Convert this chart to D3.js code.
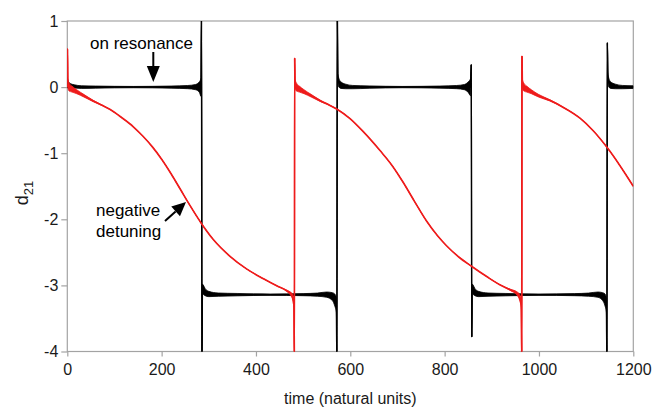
<!DOCTYPE html>
<html>
<head>
<meta charset="utf-8">
<script src="https://cdn.jsdelivr.net/npm/d3@7/dist/d3.min.js"></script>
<style>
  html, body { margin: 0; padding: 0; background: #fff; }
  svg { display: block; font-family: "Liberation Sans", Arial, sans-serif; }
</style>
</head>
<body>
<svg id="chart" width="654" height="409"></svg>
<script>
// Axis ticks
const xTicks = [0, 200, 400, 600, 800, 1000, 1200];
const yTicks = [1, 0, -1, -2, -3, -4];

// On resonance: time, mean value of d21 and half-width of the fast oscillation band
const blackTime = [0, 2, 6, 15, 30, 60, 140, 220, 255, 272, 280, 283.5,
  284.5, 285.5,
  286.5, 288, 292, 300, 320, 360, 430, 500, 530, 550, 562, 567, 570.5,
  571.5, 572.5,
  573.5, 575, 580, 590, 605, 640, 710, 790, 825, 842, 850, 855,
  856.5, 857.5,
  858.5, 860, 864, 872, 892, 930, 1000, 1075, 1105, 1125, 1135, 1140, 1143,
  1144, 1145,
  1146, 1147.5, 1152, 1162, 1177, 1200];
const blackValue = [0.07, 0.04, 0.02, 0.01, 0, 0, 0, 0, 0, 0, 0, 0,
  1.1, -4.1,
  -3.0, -3.06, -3.1, -3.13, -3.14, -3.14, -3.14, -3.14, -3.14, -3.14, -3.17, -3.22, -3.3,
  -4.1, 1.1,
  0.2, 0.08, 0.03, 0.01, 0, 0, 0, 0, 0, 0, 0, 0,
  0.34, -3.78,
  -3.0, -3.06, -3.1, -3.13, -3.14, -3.14, -3.14, -3.14, -3.14, -3.14, -3.17, -3.22, -3.3,
  -4.1, 0.67,
  0.2, 0.08, 0.03, 0.01, 0, 0];
const blackSpread = [0.08, 0.05, 0.035, 0.025, 0.02, 0.016, 0.01, 0.016, 0.024, 0.04, 0.08, 0.14,
  0, 0,
  0.02, 0.07, 0.055, 0.04, 0.025, 0.018, 0.01, 0.016, 0.024, 0.04, 0.06, 0.09, 0.11,
  0, 0,
  0.02, 0.07, 0.05, 0.035, 0.025, 0.018, 0.01, 0.016, 0.024, 0.04, 0.08, 0.13,
  0, 0,
  0.02, 0.07, 0.055, 0.04, 0.025, 0.018, 0.01, 0.016, 0.024, 0.04, 0.06, 0.09, 0.11,
  0, 0,
  0.02, 0.07, 0.05, 0.035, 0.025, 0.02];

// Negative detuning: time, mean value of d21 and half-width of the fast oscillation band
const redTime = [0, 0.4, 1.2, 4, 10, 20, 35, 55, 75, 91, 115, 140, 160, 180, 200, 220, 240, 260,
  285, 310, 345, 380, 416, 445, 465, 474, 478, 480.5, 481.5,
  482, 482.8, 486, 492, 502, 517, 537, 555, 571, 600, 627, 663, 690, 712, 737, 762, 785,
  804, 830, 857, 890, 917, 940, 953, 959, 962.5, 963.5,
  964, 964.8, 968, 974, 984, 999, 1023, 1050, 1087, 1115, 1143, 1170, 1200];
const redValue = [0, 0.58, 0.05, 0, -0.03, -0.07, -0.13, -0.21, -0.28, -0.34, -0.46, -0.6, -0.74, -0.9, -1.09, -1.31, -1.55, -1.79,
  -2.07, -2.31, -2.56, -2.75, -2.9, -3.01, -3.08, -3.13, -3.18, -3.3, -4.1,
  0.44, 0.05, 0, -0.03, -0.07, -0.13, -0.21, -0.27, -0.33, -0.48, -0.67, -0.96, -1.2, -1.44, -1.74, -2.03, -2.25,
  -2.4, -2.57, -2.71, -2.87, -2.99, -3.07, -3.12, -3.18, -3.3, -4.1,
  0.47, 0.05, 0, -0.03, -0.07, -0.13, -0.2, -0.3, -0.47, -0.66, -0.9, -1.17, -1.5];
const redSpread = [0, 0, 0.07, 0.06, 0.045, 0.03, 0.02, 0.01, 0.004, 0, 0, 0, 0, 0, 0, 0, 0, 0,
  0, 0, 0, 0, 0, 0, 0.01, 0.025, 0.045, 0.065, 0,
  0, 0.07, 0.06, 0.045, 0.03, 0.02, 0.01, 0.004, 0, 0, 0, 0, 0, 0, 0, 0, 0,
  0, 0, 0, 0, 0, 0.01, 0.025, 0.045, 0.065, 0,
  0, 0.07, 0.06, 0.045, 0.03, 0.02, 0.01, 0.004, 0, 0, 0, 0, 0];

const svg = d3.select("#chart");
const plotLeft = 67.3, plotRight = 633.3, plotTop = 21, plotBottom = 351.5;

const x = d3.scaleLinear().domain([0, 1200]).range([plotLeft, plotRight]);
const y = d3.scaleLinear().domain([-4, 1]).range([plotBottom, plotTop]);

const axisColor = "#a3a3a3";

// Plot frame
svg.append("rect")
  .attr("x", plotLeft).attr("y", plotTop)
  .attr("width", plotRight - plotLeft).attr("height", plotBottom - plotTop)
  .attr("fill", "none").attr("stroke", axisColor).attr("stroke-width", 1.2);

// Axes
const xAxis = svg.append("g")
  .attr("transform", `translate(0,${plotBottom})`)
  .call(d3.axisBottom(x).tickValues(xTicks).tickSize(5).tickPadding(7).tickFormat(d3.format("d")));
const yAxis = svg.append("g")
  .attr("transform", `translate(${plotLeft},0)`)
  .call(d3.axisLeft(y).tickValues(yTicks).tickSize(6).tickPadding(3).tickFormat(d => String(d)));

[xAxis, yAxis].forEach(g => {
  g.select(".domain").remove();
  g.selectAll(".tick line").attr("stroke", axisColor).attr("stroke-width", 1.2);
  g.selectAll(".tick text")
    .attr("fill", "#1a1a1a")
    .style("font-size", "16px")
    .style("font-family", "'Liberation Sans', Arial, sans-serif");
});

// Clip traces to the plot area
svg.append("defs").append("clipPath").attr("id", "plot-clip")
  .append("rect")
  .attr("x", plotLeft).attr("y", plotTop)
  .attr("width", plotRight - plotLeft).attr("height", plotBottom - plotTop);

const plot = svg.append("g").attr("clip-path", "url(#plot-clip)");

function drawTrace(times, values, spread, color, width) {
  const pts = times.map((t, i) => ({ t, v: values[i], s: spread[i] }));
  const band = d3.area()
    .x(d => x(d.t))
    .y0(d => y(d.v - d.s))
    .y1(d => y(d.v + d.s))
    .curve(d3.curveMonotoneX);
  const line = d3.line()
    .x(d => x(d.t))
    .y(d => y(d.v))
    .curve(d3.curveMonotoneX);
  plot.append("path").datum(pts)
    .attr("d", band)
    .attr("fill", color)
    .attr("stroke", color)
    .attr("stroke-width", 0.8);
  plot.append("path").datum(pts)
    .attr("d", line)
    .attr("fill", "none")
    .attr("stroke", color)
    .attr("stroke-width", width)
    .attr("stroke-linejoin", "round");
}

drawTrace(blackTime, blackValue, blackSpread, "#000000", 1.5);
drawTrace(redTime, redValue, redSpread, "#ee1c1c", 1.7);

// Axis titles
svg.append("text")
  .attr("x", (plotLeft + plotRight) / 2).attr("y", 404)
  .attr("text-anchor", "middle")
  .style("font-size", "16px")
  .attr("fill", "#1a1a1a")
  .text("time (natural units)");

const yTitle = svg.append("text")
  .attr("transform", "translate(28,193) rotate(-90)")
  .attr("text-anchor", "middle")
  .style("font-size", "18px")
  .attr("fill", "#1a1a1a");
yTitle.append("tspan").text("d");
yTitle.append("tspan").attr("dy", 5).style("font-size", "13px").text("21");

// Annotations
svg.append("text")
  .attr("x", 90).attr("y", 49)
  .style("font-size", "17px")
  .attr("fill", "#000")
  .text("on resonance");

function arrow(x1, y1, x2, y2, headLen, headWidth) {
  const ang = Math.atan2(y2 - y1, x2 - x1);
  const bx = x2 - headLen * Math.cos(ang), by = y2 - headLen * Math.sin(ang);
  svg.append("line")
    .attr("x1", x1).attr("y1", y1).attr("x2", bx).attr("y2", by)
    .attr("stroke", "#000").attr("stroke-width", 2);
  const px = -Math.sin(ang) * headWidth / 2, py = Math.cos(ang) * headWidth / 2;
  svg.append("path")
    .attr("d", `M${x2},${y2}L${bx + px},${by + py}L${bx - px},${by - py}Z`)
    .attr("fill", "#000");
}

arrow(153.3, 52, 153.3, 82, 16, 13);

const negLabel = svg.append("text")
  .style("font-size", "17px")
  .attr("fill", "#000");
negLabel.append("tspan").attr("x", 96).attr("y", 216).text("negative");
negLabel.append("tspan").attr("x", 96).attr("y", 237).text("detuning");

arrow(165, 221, 186, 202, 14, 13);
</script>
</body>
</html>
